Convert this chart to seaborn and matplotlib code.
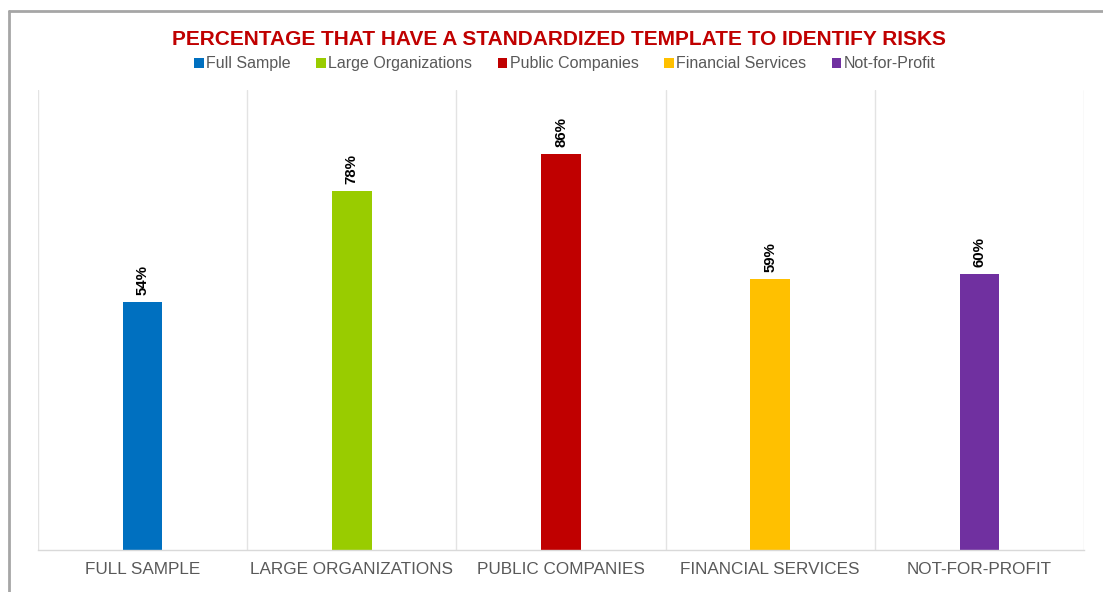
import matplotlib
matplotlib.use("Agg")
import matplotlib.pyplot as plt
import seaborn as sns
import pandas as pd
from matplotlib.patches import Patch
from matplotlib.lines import Line2D

# Données
categories = ["Full Sample", "Large Organizations", "Public Companies",
              "Financial Services", "Not-for-Profit"]
tick_labels = ["FULL SAMPLE", "LARGE ORGANIZATIONS", "PUBLIC COMPANIES",
               "FINANCIAL SERVICES", "NOT-FOR-PROFIT"]
values = [54, 78, 86, 59, 60]
colors = ["#0070C0", "#99CC00", "#C00000", "#FFC000", "#7030A0"]

sns.set_theme(style="white")
plt.rcParams["font.family"] = ["Liberation Sans", "DejaVu Sans"]

df = pd.DataFrame({"categorie": categories, "valeur": values})

fig = plt.figure(figsize=(11.03, 5.92), dpi=100)
ax = fig.add_axes([38 / 1103, 1 - 550 / 592, (1084 - 38) / 1103, (550 - 90) / 592])

sns.barplot(data=df, x="categorie", y="valeur", hue="categorie",
            palette=colors, width=0.19, legend=False, ax=ax,
            saturation=1, linewidth=0)

ax.set_ylim(0, 100)
ax.set_xlim(-0.5, len(categories) - 0.5)
ax.set_yticks([])
ax.set_xlabel("")
ax.set_ylabel("")
ax.set_xticks(range(len(categories)))
ax.set_xticklabels(tick_labels, fontsize=12.3, color="#595959")
ax.tick_params(axis="x", length=0, pad=9)

# séparateurs verticaux
for x in [i + 0.5 for i in range(-1, len(categories))]:
    ax.axvline(x, color="#e3e3e3", linewidth=1, zorder=0)

for side in ["top", "right", "left"]:
    ax.spines[side].set_visible(False)
ax.spines["bottom"].set_color("#d9d9d9")
ax.spines["bottom"].set_linewidth(1)

# étiquettes de valeur
for p, v in zip(ax.patches, values):
    ax.annotate(f"{v}%", (p.get_x() + p.get_width() / 2, p.get_height()),
                xytext=(0, 5), textcoords="offset points",
                ha="center", va="bottom", rotation=90,
                fontsize=10.8, fontweight="bold", color="black")

# titre et légende
fig.text(0.507, 0.934, "PERCENTAGE THAT HAVE A STANDARDIZED TEMPLATE TO IDENTIFY RISKS",
         ha="center", va="center", fontsize=15, fontweight="bold", color="#C00000")
handles = [Patch(facecolor=c, edgecolor="none") for c in colors]
fig.legend(handles, categories, loc="center", bbox_to_anchor=(0.512, 0.892),
           ncol=5, frameon=False, fontsize=11.5, handlelength=0.6, handleheight=0.6,
           handletextpad=0.15, columnspacing=1.6, labelcolor="#595959")

# cadre gris
fig.add_artist(Line2D([9 / 1103, 1], [1 - 11 / 592, 1 - 11 / 592], color="#a6a6a6", linewidth=2))
fig.add_artist(Line2D([9 / 1103, 9 / 1103], [0, 1 - 11 / 592], color="#a6a6a6", linewidth=2))

plt.savefig("out.png", dpi=100)
plt.close()
